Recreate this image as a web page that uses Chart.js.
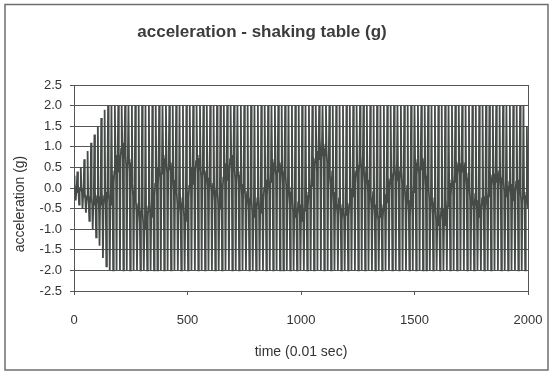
<!DOCTYPE html>
<html>
<head>
<meta charset="utf-8">
<script src="https://cdn.jsdelivr.net/npm/chart.js@4"></script>
<style>
  html, body { margin: 0; padding: 0; background: #ffffff; }
  canvas { display: block; }
</style>
</head>
<body>
<canvas id="accel-chart" width="552" height="373"></canvas>

<script>
  // shaking table record, every 2.5 samples (0.025 sec)
  const sampleStep = 2.5;
  const acceleration = [
    // ramp-up, 0 - 147.5
    0.3, 0.1, 0.0, -0.3, -0.1, 0.1,
    0.4, 0.1, -0.1, -0.4, -0.1, 0.0,
    0.5, 0.0, -0.1, -0.5, -0.2, 0.0,
    0.7, -0.1, -0.3, -0.6, -0.3, -0.2,
    0.9, -0.2, -0.4, -0.8, -0.4, -0.2,
    1.1, -0.2, -0.4, -1.0, -0.4, -0.1,
    1.3, -0.1, -0.4, -1.2, -0.4, -0.2,
    1.5, -0.2, -0.5, -1.4, -0.4, -0.2,
    1.7, -0.1, -0.4, -1.7, -0.5, -0.2,
    1.9, -0.1, -0.4, -1.9, -0.4, -0.1,
    // clipped at +/-2 g, 150 - 2000
    2, 0.0, -0.3, -2, -0.4, -0.1,
    2, 0.3, 0.0, -2, 0.1, 0.4,
    2, 0.8, 0.5, -2, 0.4, 0.7,
    2, 0.85, 0.55, -2, 0.65, 0.95,
    2, 1.1, 0.8, -2, 0.7, 1.0,
    2, 0.8, 0.5, -2, 0.6, 0.9,
    2, 0.7, 0.4, -2, 0.3, 0.6,
    2, 0.1, -0.2, -2, -0.1, 0.2,
    2, -0.3, -0.6, -2, -0.7, -0.4,
    2, -0.55, -0.85, -2, -0.75, -0.45,
    2, -0.6, -0.9, -2, -1.0, -0.7,
    2, -0.55, -0.85, -2, -0.75, -0.45,
    2, -0.3, -0.6, -2, -0.7, -0.4,
    2, 0.0, -0.3, -2, -0.2, 0.1,
    2, 0.5, 0.2, -2, 0.1, 0.4,
    2, 0.55, 0.25, -2, 0.35, 0.65,
    2, 0.8, 0.5, -2, 0.4, 0.7,
    2, 0.65, 0.35, -2, 0.45, 0.75,
    2, 0.7, 0.4, -2, 0.3, 0.6,
    2, 0.2, -0.1, -2, 0.0, 0.3,
    2, -0.1, -0.4, -2, -0.5, -0.2,
    2, -0.35, -0.65, -2, -0.55, -0.25,
    2, -0.4, -0.7, -2, -0.8, -0.5,
    2, -0.05, -0.35, -2, -0.25, 0.05,
    2, 0.5, 0.2, -2, 0.1, 0.4,
    2, 0.55, 0.25, -2, 0.35, 0.65,
    2, 0.8, 0.5, -2, 0.4, 0.7,
    2, 0.55, 0.25, -2, 0.35, 0.65,
    2, 0.5, 0.2, -2, 0.1, 0.4,
    2, 0.25, -0.05, -2, 0.05, 0.35,
    2, 0.2, -0.1, -2, -0.2, 0.1,
    2, -0.05, -0.35, -2, -0.25, 0.05,
    2, -0.1, -0.4, -2, -0.5, -0.2,
    2, 0.15, -0.15, -2, -0.05, 0.25,
    2, 0.6, 0.3, -2, 0.2, 0.5,
    2, 0.6, 0.3, -2, 0.4, 0.7,
    2, 0.8, 0.5, -2, 0.4, 0.7,
    2, 0.5, 0.2, -2, 0.3, 0.6,
    2, 0.4, 0.1, -2, 0.0, 0.3,
    2, 0.1, -0.2, -2, -0.1, 0.2,
    2, 0.0, -0.3, -2, -0.4, -0.1,
    2, -0.25, -0.55, -2, -0.45, -0.15,
    2, -0.3, -0.6, -2, -0.7, -0.4,
    2, -0.35, -0.65, -2, -0.55, -0.25,
    2, -0.2, -0.5, -2, -0.6, -0.3,
    2, -0.1, -0.4, -2, -0.3, 0.0,
    2, 0.2, -0.1, -2, -0.2, 0.1,
    2, 0.35, 0.05, -2, 0.15, 0.45,
    2, 0.7, 0.4, -2, 0.3, 0.6,
    2, 0.6, 0.3, -2, 0.4, 0.7,
    2, 0.7, 0.4, -2, 0.3, 0.6,
    2, 0.4, 0.1, -2, 0.2, 0.5,
    2, 0.3, 0.0, -2, -0.1, 0.2,
    2, -0.1, -0.4, -2, -0.3, 0.0,
    2, -0.3, -0.6, -2, -0.7, -0.4,
    2, -0.45, -0.75, -2, -0.65, -0.35,
    2, -0.4, -0.7, -2, -0.8, -0.5,
    2, -0.35, -0.65, -2, -0.55, -0.25,
    2, -0.1, -0.4, -2, -0.5, -0.2,
    2, 0.25, -0.05, -2, 0.05, 0.35,
    2, 0.8, 0.5, -2, 0.4, 0.7,
    2, 0.9, 0.6, -2, 0.7, 1.0,
    2, 1.2, 0.9, -2, 0.8, 1.1,
    2, 0.95, 0.65, -2, 0.75, 1.05,
    2, 0.9, 0.6, -2, 0.5, 0.8,
    2, 0.3, 0.0, -2, 0.1, 0.4,
    2, -0.1, -0.4, -2, -0.5, -0.2,
    2, -0.35, -0.65, -2, -0.55, -0.25,
    2, -0.4, -0.7, -2, -0.8, -0.5,
    2, -0.45, -0.75, -2, -0.65, -0.35,
    2, -0.3, -0.6, -2, -0.7, -0.4,
    2, 0.0, -0.3, -2, -0.2, 0.1,
    2, 0.5, 0.2, -2, 0.1, 0.4,
    2, 0.55, 0.25, -2, 0.35, 0.65,
    2, 0.8, 0.5, -2, 0.4, 0.7,
    2, 0.4, 0.1, -2, 0.2, 0.5,
    2, 0.2, -0.1, -2, -0.2, 0.1,
    2, -0.2, -0.5, -2, -0.4, -0.1,
    2, -0.4, -0.7, -2, -0.8, -0.5,
    2, -0.5, -0.8, -2, -0.7, -0.4,
    2, -0.4, -0.7, -2, -0.8, -0.5,
    2, -0.15, -0.45, -2, -0.35, -0.05,
    2, 0.3, 0.0, -2, -0.1, 0.2,
    2, 0.35, 0.05, -2, 0.15, 0.45,
    2, 0.6, 0.3, -2, 0.2, 0.5,
    2, 0.4, 0.1, -2, 0.2, 0.5,
    2, 0.4, 0.1, -2, 0.0, 0.3,
    2, -0.05, -0.35, -2, -0.25, 0.05,
    2, -0.3, -0.6, -2, -0.7, -0.4,
    2, 0.1, -0.2, -2, -0.1, 0.2,
    2, 0.7, 0.4, -2, 0.3, 0.6,
    2, 0.65, 0.35, -2, 0.45, 0.75,
    2, 0.8, 0.5, -2, 0.4, 0.7,
    2, 0.3, 0.0, -2, 0.1, 0.4,
    2, 0.0, -0.3, -2, -0.4, -0.1,
    2, -0.35, -0.65, -2, -0.55, -0.25,
    2, -0.5, -0.8, -2, -0.9, -0.6,
    2, -0.6, -0.9, -2, -0.8, -0.5,
    2, -0.5, -0.8, -2, -0.9, -0.6,
    2, -0.25, -0.55, -2, -0.45, -0.15,
    2, 0.2, -0.1, -2, -0.2, 0.1,
    2, 0.35, 0.05, -2, 0.15, 0.45,
    2, 0.7, 0.4, -2, 0.3, 0.6,
    2, 0.6, 0.3, -2, 0.4, 0.7,
    2, 0.7, 0.4, -2, 0.3, 0.6,
    2, 0.25, -0.05, -2, 0.05, 0.35,
    2, 0.0, -0.3, -2, -0.4, -0.1,
    2, -0.25, -0.55, -2, -0.45, -0.15,
    2, -0.3, -0.6, -2, -0.7, -0.4,
    2, -0.35, -0.65, -2, -0.55, -0.25,
    2, -0.2, -0.5, -2, -0.6, -0.3,
    2, 0.0, -0.3, -2, -0.2, 0.1,
    2, 0.4, 0.1, -2, 0.0, 0.3,
    2, 0.35, 0.05, -2, 0.15, 0.45,
    2, 0.5, 0.2, -2, 0.1, 0.4,
    2, 0.25, -0.05, -2, 0.05, 0.35,
    2, 0.2, -0.1, -2, -0.2, 0.1,
    2, 0.05, -0.25, -2, -0.15, 0.15,
    2, 0.1, -0.2, -2, -0.3, 0.0,
    2, 0.05, -0.25, -2, -0.15, 0.15,
    2, 0.2, -0.1, -2, -0.2, 0.1,
    2, -0.05, -0.35, -2, -0.25, 0.05,
    2, -0.1, -0.4, -2, -0.5, -0.2,
    // last samples up to 2000
    1.5, 0.0, -0.5
  ];

  const titleText = "acceleration - shaking table (g)";
  const xTitle = "time (0.01 sec)";
  const yTitle = "acceleration (g)";
  const xTicks = [0, 500, 1000, 1500, 2000];
  const yTicks = [-2.5, -2.0, -1.5, -1.0, -0.5, 0.0, 0.5, 1.0, 1.5, 2.0, 2.5];

  const fontFamily = "'Liberation Sans', Arial, sans-serif";
  const ink = "#464b48";
  const gridGray = "#555555";

  const points = acceleration.map(function(v, i) {
    return { x: i * sampleStep, y: v };
  });

  // frame around the whole chart + the three titles (placed like the excel original)
  const framePlugin = {
    id: "frameAndTitles",
    afterDraw(chart) {
      const ctx = chart.ctx;
      ctx.save();
      ctx.strokeStyle = "#6e6e6e";
      ctx.lineWidth = 1.5;
      ctx.strokeRect(5, 4.5, 543, 365.5);

      ctx.fillStyle = "#3c3c3c";
      ctx.textAlign = "center";
      ctx.textBaseline = "alphabetic";
      ctx.font = "bold 17px " + fontFamily;
      ctx.fillText(titleText, 262, 37);

      ctx.fillStyle = "#333333";
      ctx.font = "14px " + fontFamily;
      ctx.textBaseline = "middle";
      ctx.fillText(xTitle, 301, 352);

      ctx.translate(20, 204);
      ctx.rotate(-Math.PI / 2);
      ctx.fillText(yTitle, 0, 0);
      ctx.restore();
    }
  };

  const config = {
    type: "line",
    data: {
      datasets: [{
        label: "acceleration",
        data: points,
        borderColor: ink,
        backgroundColor: ink,
        borderWidth: 1.8,
        pointRadius: 0,
        tension: 0,
        fill: false,
      }]
    },
    options: {
      responsive: false,
      animation: false,
      events: [],
      layout: {
        padding: { top: 85, right: 24, bottom: 0, left: 0 }
      },
      plugins: {
        legend: { display: false },
        title: { display: false },
        tooltip: { enabled: false }
      },
      scales: {
        x: {
          type: "linear",
          min: xTicks[0],
          max: xTicks[xTicks.length - 1],
          afterBuildTicks: function(scale) {
            scale.ticks = xTicks.map(function(v) { return { value: v }; });
          },
          afterFit: function(scale) {
            scale.height = 82;
            scale.paddingLeft = 0;
            scale.paddingRight = 0;
          },
          ticks: {
            color: "#333333",
            font: { family: fontFamily, size: 13 },
            padding: 18,
            maxRotation: 0,
            callback: function(v) { return String(v); }
          },
          grid: {
            color: function(c) { return c.tick && c.tick.value === 2000 ? gridGray : "rgba(0,0,0,0)"; },
            tickColor: gridGray,
            tickLength: 4,
            lineWidth: 1
          },
          border: { display: true, color: gridGray, width: 1 }
        },
        y: {
          min: -2.5,
          max: 2.5,
          afterBuildTicks: function(scale) {
            scale.ticks = yTicks.map(function(v) { return { value: v }; });
          },
          afterFit: function(scale) { scale.width = 74; },
          ticks: {
            color: "#333333",
            font: { family: fontFamily, size: 13 },
            padding: 8,
            callback: function(v) { return Number(v).toFixed(1); }
          },
          grid: {
            color: gridGray,
            tickColor: gridGray,
            tickLength: 4,
            lineWidth: 1
          },
          border: { display: true, color: gridGray, width: 1 }
        }
      }
    },
    plugins: [framePlugin]
  };

  const accelChart = new Chart(document.getElementById("accel-chart"), config);
</script>
</body>
</html>
